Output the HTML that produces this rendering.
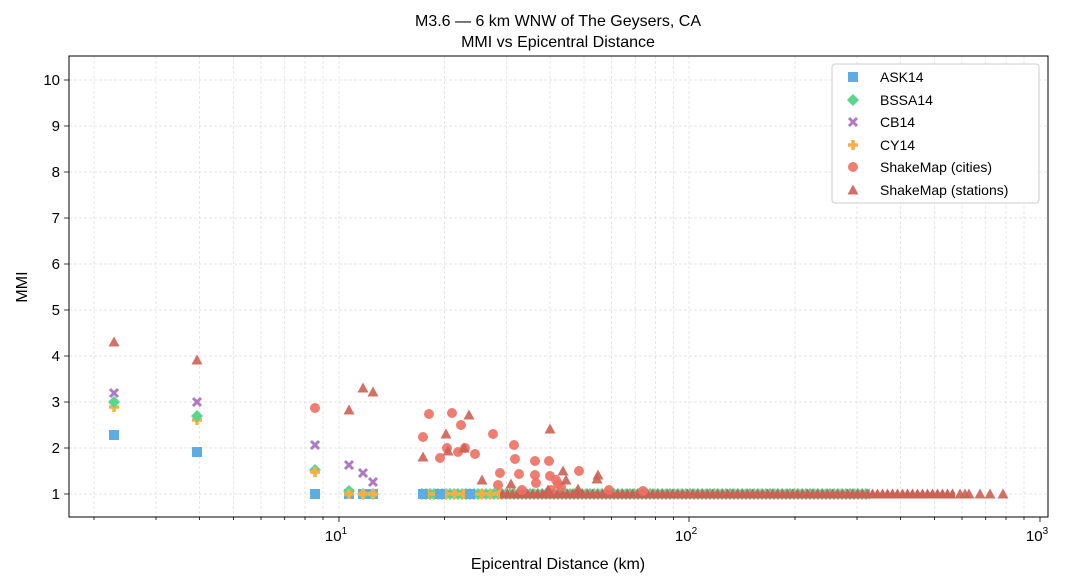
<!DOCTYPE html>
<html><head><meta charset="utf-8"><style>
html,body{margin:0;padding:0;background:#fff;}
svg{display:block;font-family:"Liberation Sans","DejaVu Sans",sans-serif;}
</style></head><body>
<svg width="1066" height="585" viewBox="0 0 1066 585" xmlns="http://www.w3.org/2000/svg">
<defs>
<g id="sq"><rect x="-5" y="-5" width="10" height="10" fill="#5DADE2"/></g>
<g id="di"><polygon points="0,-6 6,0 0,6 -6,0" fill="#58D68D"/></g>
<g id="xx"><path d="M-4,-4L4,4M-4,4L4,-4" stroke="#AF7AC5" stroke-width="3"/></g>
<g id="pl"><path d="M-5,0H5M0,-5V5" stroke="#F5B041" stroke-width="3.5"/></g>
<g id="ci"><circle r="5" fill="#EC7063" fill-opacity="0.9"/></g>
<g id="tr"><polygon points="0,-5.5 5.5,4.5 -5.5,4.5" fill="#CD6155" fill-opacity="0.9"/></g>
<pattern id="pdi" x="0" y="488" width="4" height="12" patternUnits="userSpaceOnUse"><polygon points="2,0 8,6 2,12 -4,6" fill="#58D68D"/></pattern>
<pattern id="ptr" x="0" y="488" width="5" height="12" patternUnits="userSpaceOnUse"><polygon points="2.5,0.5 8,10.5 -3,10.5" fill="#CD6155"/></pattern>
<pattern id="ppl" x="0" y="488" width="9" height="12" patternUnits="userSpaceOnUse"><path d="M0,6H9M4.5,1V11" stroke="#F5B041" stroke-width="3.5"/></pattern>
</defs>
<rect width="1066" height="585" fill="#fff"/>
<g stroke="#ddd" stroke-width="0.7" stroke-dasharray="3,2">
<path d="M94,56V517M156,56V517M199.5,56V517M233.5,56V517M261,56V517M284.7,56V517M305,56V517M323,56V517M339,56V517
M444.5,56V517M506.5,56V517M550,56V517M584,56V517M611.5,56V517M635.2,56V517M655.5,56V517M673.5,56V517M689,56V517
M795,56V517M857,56V517M900.5,56V517M934.5,56V517M962,56V517M985.7,56V517M1006,56V517M1024,56V517"/>
<path d="M69,494H1048M69,448H1048M69,402H1048M69,356H1048M69,310H1048M69,264H1048M69,218H1048M69,172H1048M69,126H1048M69,80H1048"/>
</g>
<!-- dense band -->
<rect x="420" y="488" width="450" height="12" fill="url(#pdi)"/>
<rect x="418" y="488" width="90" height="12" fill="url(#ppl)"/>
<rect x="500" y="488" width="370" height="12" fill="url(#ptr)"/>
<rect x="870" y="488" width="85" height="12" fill="url(#ptr)"/>
<use href="#tr" x="960" y="494"/><use href="#tr" x="965" y="494"/><use href="#tr" x="969" y="494"/><use href="#tr" x="980" y="494"/><use href="#tr" x="990" y="494"/><use href="#tr" x="1003" y="494"/>
<use href="#sq" x="423" y="494"/><use href="#sq" x="440" y="494"/><use href="#sq" x="470" y="494"/>
<!-- near-field -->
<use href="#sq" x="114" y="435"/><use href="#pl" x="114" y="407"/><use href="#di" x="114" y="402"/><use href="#xx" x="114" y="393"/><use href="#tr" x="114" y="342"/>
<use href="#sq" x="197" y="452"/><use href="#pl" x="197" y="420"/><use href="#di" x="197" y="416"/><use href="#xx" x="197" y="402"/><use href="#tr" x="197" y="360"/>
<use href="#sq" x="315" y="494"/><use href="#di" x="315" y="470"/><use href="#pl" x="315" y="472"/><use href="#xx" x="315" y="445"/><use href="#ci" x="315" y="408"/>
<use href="#sq" x="349" y="494"/><use href="#di" x="349" y="491"/><use href="#pl" x="349" y="494"/><use href="#xx" x="349" y="465"/><use href="#tr" x="349" y="410"/>
<use href="#sq" x="363" y="494"/><use href="#di" x="363" y="494"/><use href="#pl" x="363" y="494"/><use href="#xx" x="363" y="473"/><use href="#tr" x="363" y="388"/>
<use href="#sq" x="373" y="494"/><use href="#di" x="373" y="494"/><use href="#pl" x="373" y="494"/><use href="#xx" x="373" y="482"/><use href="#tr" x="373" y="392"/>
<!-- cities -->
<g>
<use href="#ci" x="423" y="437"/><use href="#ci" x="429" y="414"/><use href="#ci" x="440" y="458"/><use href="#ci" x="447" y="448"/><use href="#ci" x="452" y="413"/><use href="#ci" x="458" y="452"/><use href="#ci" x="461" y="425"/><use href="#ci" x="465" y="448"/><use href="#ci" x="475" y="454"/><use href="#ci" x="493" y="434"/><use href="#ci" x="500" y="473"/><use href="#ci" x="514" y="445"/><use href="#ci" x="515" y="459"/><use href="#ci" x="519" y="474"/><use href="#ci" x="522" y="490"/><use href="#ci" x="535" y="461"/><use href="#ci" x="535" y="475"/><use href="#ci" x="536" y="483"/><use href="#ci" x="549" y="461"/><use href="#ci" x="550" y="476"/><use href="#ci" x="551" y="490"/><use href="#ci" x="556" y="480"/><use href="#ci" x="558" y="484"/><use href="#ci" x="561" y="487"/><use href="#ci" x="579" y="471"/><use href="#ci" x="609" y="490"/><use href="#ci" x="643" y="491"/><use href="#ci" x="498" y="485"/>
</g>
<g>
<use href="#tr" x="423" y="457"/><use href="#tr" x="446" y="434"/><use href="#tr" x="448" y="451"/><use href="#tr" x="464" y="448"/><use href="#tr" x="469" y="415"/><use href="#tr" x="482" y="480"/><use href="#tr" x="511" y="484"/><use href="#tr" x="550" y="429"/><use href="#tr" x="563" y="471"/><use href="#tr" x="566" y="480"/><use href="#tr" x="597" y="479"/><use href="#tr" x="598" y="475"/><use href="#tr" x="548" y="490"/><use href="#tr" x="578" y="489"/>
</g>
<!-- axes -->
<rect x="69" y="56" width="979" height="461" fill="none" stroke="#000" stroke-width="1"/>
<g stroke="#000" stroke-width="0.8">
<path d="M339,517v5M689,517v5M1040,517v5"/>
<path d="M94,517v3M156,517v3M199.5,517v3M233.5,517v3M261,517v3M284.7,517v3M305,517v3M323,517v3M444.5,517v3M506.5,517v3M550,517v3M584,517v3M611.5,517v3M635.2,517v3M655.5,517v3M673.5,517v3M795,517v3M857,517v3M900.5,517v3M934.5,517v3M962,517v3M985.7,517v3M1006,517v3M1024,517v3"/>
<path d="M69,494h-5M69,448h-5M69,402h-5M69,356h-5M69,310h-5M69,264h-5M69,218h-5M69,172h-5M69,126h-5M69,80h-5"/>
</g>
<g font-size="15" text-anchor="end" fill="#000">
<text x="60" y="499">1</text><text x="60" y="453">2</text><text x="60" y="407">3</text><text x="60" y="361">4</text><text x="60" y="315">5</text><text x="60" y="269">6</text><text x="60" y="223">7</text><text x="60" y="177">8</text><text x="60" y="131">9</text><text x="60" y="85">10</text>
</g>
<g font-size="15" text-anchor="middle">
<text x="336" y="541">10<tspan font-size="10" dy="-7">1</tspan></text>
<text x="686" y="541">10<tspan font-size="10" dy="-7">2</tspan></text>
<text x="1037" y="541">10<tspan font-size="10" dy="-7">3</tspan></text>
<text x="558" y="569" font-size="16">Epicentral Distance (km)</text>
<text x="558" y="26" font-size="16">M3.6 — 6 km WNW of The Geysers, CA</text>
<text x="558" y="47" font-size="16">MMI vs Epicentral Distance</text>
</g>
<text x="27" y="287" font-size="16" text-anchor="middle" transform="rotate(-90 27 287)">MMI</text>
<!-- legend -->
<rect x="832" y="64" width="207" height="139" rx="3" fill="#fff" fill-opacity="0.9" stroke="#ccc"/>
<use href="#sq" x="853" y="77"/><use href="#di" x="853" y="100"/><use href="#xx" x="853" y="122"/><use href="#pl" x="853" y="145"/><use href="#ci" x="853" y="167"/><use href="#tr" x="853" y="190"/>
<g font-size="14">
<text x="880" y="82">ASK14</text><text x="880" y="105">BSSA14</text><text x="880" y="127">CB14</text><text x="880" y="150">CY14</text><text x="880" y="172">ShakeMap (cities)</text><text x="880" y="195">ShakeMap (stations)</text>
</g>
</svg>
</body></html>
